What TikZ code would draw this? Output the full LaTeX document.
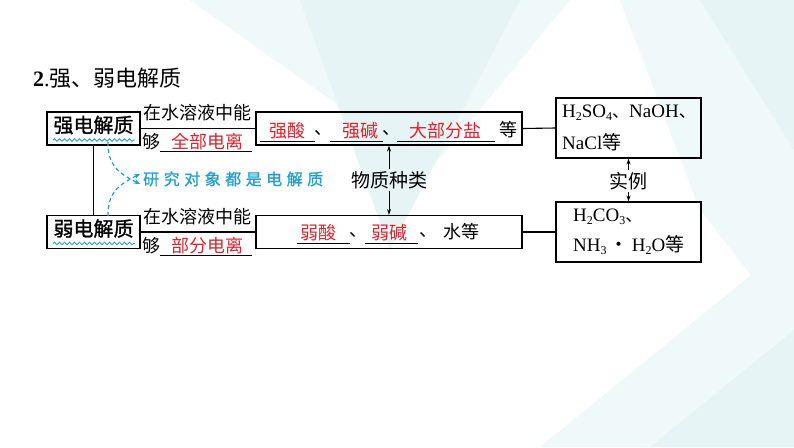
\documentclass[tikz,border=0pt]{standalone}
\usepackage{fontspec}
\setmainfont{Liberation Serif}
\newfontfamily\cjk{Noto Sans CJK SC}
\newfontfamily\cjkb[FakeBold=1.2]{Noto Sans CJK SC}
\usetikzlibrary{arrows.meta,decorations.pathmorphing}
\definecolor{redtxt}{RGB}{214,36,48}
\definecolor{bluetxt}{RGB}{38,158,205}
\definecolor{bgA}{RGB}{230,244,245}
\definecolor{bgB}{RGB}{240,249,249}
\newcommand\sbs[1]{\raisebox{-0.35ex}{\fontsize{12}{12}\selectfont #1}}
\tikzset{
  boxa/.style={draw,line width=1.1pt,minimum width=93pt,minimum height=33pt,inner sep=0pt},
  boxm/.style={draw,line width=1.1pt,minimum width=266pt,minimum height=33pt,inner sep=0pt},
  boxr/.style={draw,line width=1.1pt,minimum width=145pt,minimum height=60pt,inner sep=0pt},
  conn/.style={line width=1.1pt},
  dbl/.style={line width=0.9pt,-{Stealth[length=6pt,width=4pt]}},
  cn/.style={font=\cjk\fontsize{18}{18}\selectfont,inner sep=0pt},
  rd/.style={font=\cjk\fontsize{18}{18}\selectfont,text=redtxt,inner sep=0pt},
  uline/.style={line width=0.9pt},
  lat/.style={font=\fontsize{19}{19}\selectfont,inner sep=0pt,anchor=west},
  wave/.style={bluetxt,line width=0.9pt,decorate,decoration={snake,amplitude=1.2pt,segment length=5pt}},
  bluearr/.style={bluetxt,line width=1.2pt,dashed,dash pattern=on 4pt off 3pt,-{Stealth[length=6pt,width=5pt]}}
}
\begin{document}
\begin{tikzpicture}[x=1pt,y=-1pt]
\useasboundingbox (0,0) rectangle (794,447);
\fill[white] (0,0) rectangle (794,447);
% background shapes
\fill[bgB] (190,0) -- (570,0) -- (430,170) -- cycle;
\fill[bgA] (300,0) -- (520,0) -- (390,250) -- cycle;
\fill[bgB] (620,0) -- (794,0) -- (794,330) -- (700,210) -- cycle;
\fill[bgA] (700,0) -- (794,0) -- (794,150) -- cycle;
\fill[bgB] (540,447) -- (794,240) -- (794,447) -- cycle;
\fill[bgA] (650,447) -- (794,330) -- (794,447) -- cycle;
% title
\node[anchor=west,inner sep=0pt] (title) at (33,78) {\fontsize{22}{22}\selectfont\textbf{2}.{\cjk 强、弱电解质}};
% left boxes
\node[boxa] (s) at (93.5,128.5) {};
\node[font=\cjkb\fontsize{20}{20}\selectfont,inner sep=0pt] (st) at (93.5,125) {强电解质};
\draw[wave] (53,140) -- (135,140);
\node[boxa] (w) at (93.5,232) {};
\node[font=\cjkb\fontsize{20}{20}\selectfont,inner sep=0pt] (wt) at (93.5,228.5) {弱电解质};
\draw[wave] (53,243.5) -- (135,243.5);
\draw[conn] (s) -- (w);
% middle boxes
\node[boxm] (mA) at (389,128.5) {};
\node[boxm] (mB) at (389,232) {};
% right boxes
\node[boxr] (rA) at (628.5,128) {};
\node[boxr] (rB) at (628.5,232) {};
% connectors
\draw[conn] (s.east) -- (mA.west);
\draw[conn] (w.east) -- (mB.west);
\draw[conn] (mA.east) -- (rA.west);
\draw[conn] (mB.east) -- (rB.west);
% left texts upper
\node[cn,anchor=west,fill=white,inner sep=1pt] (t1) at (142,113) {在水溶液中能};
\node[cn] (g1) at (151,142) {够};
\draw[uline] (160,151) -- (252,151);
\node[rd] (r1) at (207,142) {全部电离};
% left texts lower
\node[cn,anchor=west,fill=white,inner sep=1pt] (t2) at (142,217) {在水溶液中能};
\node[cn] (g2) at (151,246) {够};
\draw[uline] (160,255) -- (252,255);
\node[rd] (r2) at (207,246) {部分电离};
% middle box A content
\draw[uline] (260,141) -- (315,141);
\node[rd] (a1) at (287,131) {强酸};
\node[cn] (c1) at (323,133) {、};
\draw[uline] (330,141) -- (383,141);
\node[rd] (a2) at (360,131) {强碱};
\node[cn] (c2) at (391,133) {、};
\draw[uline] (397,141) -- (495,141);
\node[rd] (a3) at (445,131) {大部分盐};
\node[cn] (d1) at (508,130) {等};
% middle box B content
\draw[uline] (297,243) -- (350,243);
\node[rd] (b1) at (318,233) {弱酸};
\node[cn] (c3) at (358,235) {、};
\draw[uline] (365,243) -- (418,243);
\node[rd] (b2) at (389,233) {弱碱};
\node[cn] (c4) at (428,235) {、};
\node[cn] (b3) at (461,232) {水等};
% kind arrow
\node[font=\cjk\fontsize{19}{19}\selectfont,inner sep=2pt] (kind) at (389,180) {物质种类};
\draw[dbl] (kind.north) -- (mA.south);
\draw[dbl] (kind.south) -- (mB.north);
% example arrow
\node[font=\cjk\fontsize{19}{19}\selectfont,inner sep=2pt] (ex) at (628.5,181) {实例};
\draw[dbl] (ex.north) -- (rA.south);
\draw[dbl] (ex.south) -- (rB.north);
% right box texts
\node[lat] (x1) at (562,113) {H\sbs{2}SO\sbs{4}{\cjk\fontsize{17}{17}\selectfont 、}NaOH{\cjk\fontsize{17}{17}\selectfont 、}};
\node[lat] (x2) at (562,142) {NaCl{\cjk 等}};
\node[lat] (x3) at (573,217) {H\sbs{2}CO\sbs{3}{\cjk\fontsize{17}{17}\selectfont 、}};
\node[lat] (x4) at (573,245) {NH\sbs{3}\,{\cjk ·}\,H\sbs{2}O{\cjk 等}};
% blue note
\node[anchor=west,inner sep=0pt,text=bluetxt,font=\cjkb\fontsize{16}{16}\selectfont] (note) at (143,179)
  {研\hspace{4.5pt}究\hspace{4.5pt}对\hspace{4.5pt}象\hspace{4.5pt}都\hspace{4.5pt}是\hspace{4.5pt}电\hspace{4.5pt}解\hspace{4.5pt}质};
\coordinate (sa) at (108,142);
\coordinate (wa) at (108,216);
\draw[bluearr] (sa) .. controls (108,164) and (116,172) .. ([xshift=-3pt,yshift=-5pt]note.west);
\draw[bluearr] (wa) .. controls (108,194) and (116,186) .. ([xshift=-3pt,yshift=5pt]note.west);
\end{tikzpicture}
\end{document}
